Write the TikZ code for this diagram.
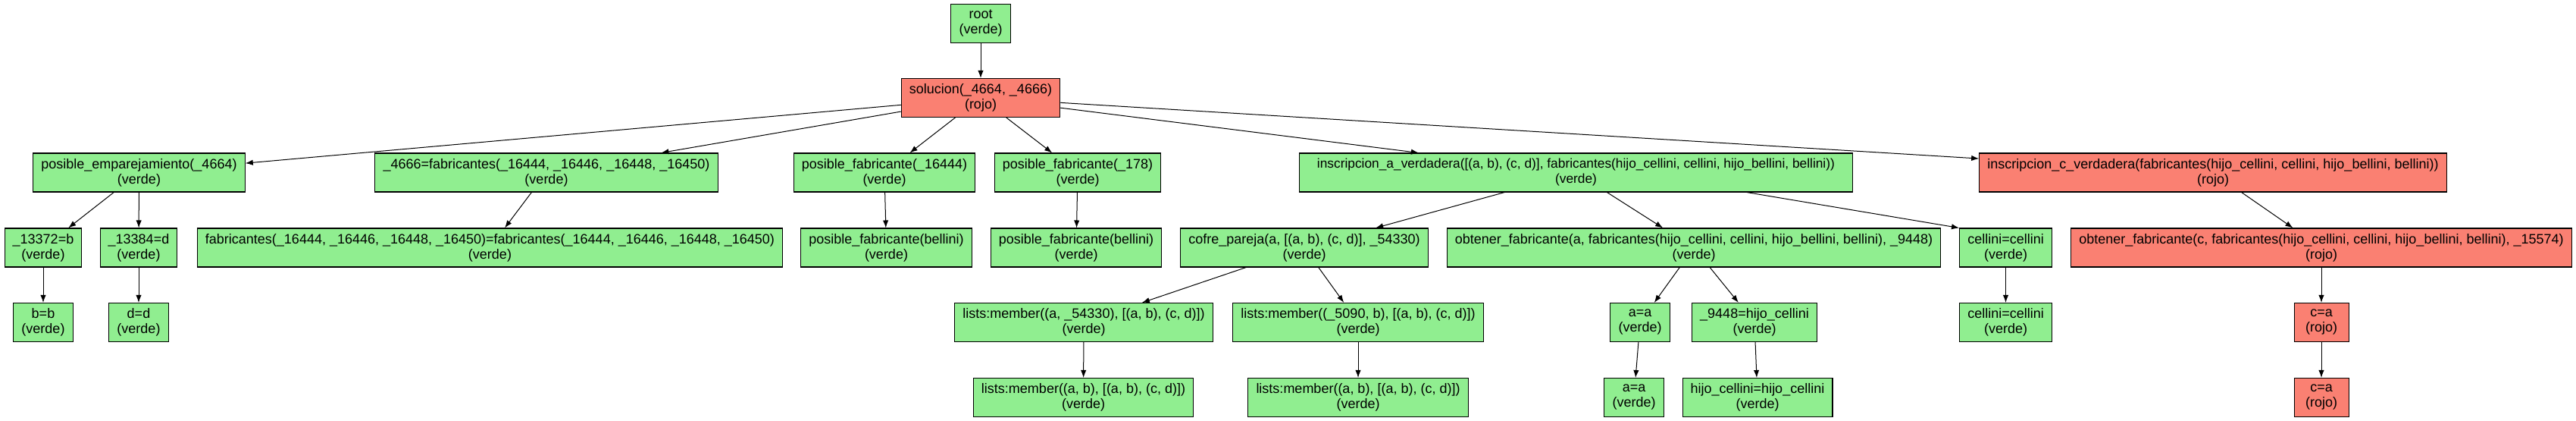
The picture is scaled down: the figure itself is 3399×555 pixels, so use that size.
\documentclass[tikz,border=0pt]{standalone}
\usepackage{fontspec}
\setmainfont{Liberation Sans}
\usetikzlibrary{arrows.meta}
\definecolor{verde}{RGB}{144,238,144}
\definecolor{rojo}{RGB}{250,128,114}
\tikzset{
    caja/.style={draw=black,line width=0.8pt,rectangle,align=center,
        minimum width=54pt,minimum height=38.25pt,inner xsep=8pt,inner ysep=2pt,
        font=\fontsize{13.5}{15}\selectfont},
    cajav/.style={caja,fill=verde},
    cajar/.style={caja,fill=rojo},
    flecha/.style={>={Latex[length=7.5pt,width=5.5pt]},->,line width=0.75pt}
}
\begin{document}
\begin{tikzpicture}[x=0.75pt,y=-0.75pt]
                        \useasboundingbox (0,0) rectangle (3399,555);
                        % nivel 0 y 1
                        \node[cajav] (root) at (1294,31) {root\\(verde)};
                        \node[cajar] (sol) at (1294,129) {solucion(\_4664, \_4666)\\(rojo)};
                        % nivel 2
                        \node[cajav] (pe) at (183.5,227.5) {posible\_emparejamiento(\_4664)\\(verde)};
                        \node[cajav] (fab) at (721,227.5) {\_4666=fabricantes(\_16444, \_16446, \_16448, \_16450)\\(verde)};
                        \node[cajav] (pfa) at (1167,227.5) {posible\_fabricante(\_16444)\\(verde)};
                        \node[cajav] (pfb) at (1422,227.5) {posible\_fabricante(\_178)\\(verde)};
                        \node[cajav,minimum width=548pt,font=\fontsize{13}{15}\selectfont] (insa) at (2079.5,227.5) {inscripcion\_a\_verdadera([(a, b), (c, d)], fabricantes(hijo\_cellini, cellini, hijo\_bellini, bellini))\\(verde)};
                        \node[cajar] (insc) at (2920,227.5) {inscripcion\_c\_verdadera(fabricantes(hijo\_cellini, cellini, hijo\_bellini, bellini))\\(rojo)};
                        % nivel 3
                        \node[cajav] (eqb) at (57,326.5) {\_13372=b\\(verde)};
                        \node[cajav] (eqd) at (183,326.5) {\_13384=d\\(verde)};
                        \node[cajav] (fabeq) at (646.5,326.5) {fabricantes(\_16444, \_16446, \_16448, \_16450)=fabricantes(\_16444, \_16446, \_16448, \_16450)\\(verde)};
                        \node[cajav] (pbea) at (1169.5,326.5) {posible\_fabricante(bellini)\\(verde)};
                        \node[cajav] (pbeb) at (1420,326.5) {posible\_fabricante(bellini)\\(verde)};
                        \node[cajav] (cofre) at (1721,326.5) {cofre\_pareja(a, [(a, b), (c, d)], \_54330)\\(verde)};
                        \node[cajav] (obta) at (2235,326.5) {obtener\_fabricante(a, fabricantes(hijo\_cellini, cellini, hijo\_bellini, bellini), \_9448)\\(verde)};
                        \node[cajav] (cela) at (2646.5,326.5) {cellini=cellini\\(verde)};
                        \node[cajar] (obtc) at (3063,326.5) {obtener\_fabricante(c, fabricantes(hijo\_cellini, cellini, hijo\_bellini, bellini), \_15574)\\(rojo)};
                        % nivel 4
                        \node[cajav] (bb) at (57,425) {b=b\\(verde)};
                        \node[cajav] (dd) at (183,425) {d=d\\(verde)};
                        \node[cajav] (lma) at (1430,425) {lists:member((a, \_54330), [(a, b), (c, d)])\\(verde)};
                        \node[cajav] (lmb) at (1792,425) {lists:member((\_5090, b), [(a, b), (c, d)])\\(verde)};
                        \node[cajav] (aaa) at (2164,425) {a=a\\(verde)};
                        \node[cajav] (hij) at (2315,425) {\_9448=hijo\_cellini\\(verde)};
                        \node[cajav] (celb) at (2646.5,425) {cellini=cellini\\(verde)};
                        \node[cajar] (caa) at (3063,425) {c=a\\(rojo)};
                        % nivel 5
                        \node[cajav] (lmc) at (1429.5,524) {lists:member((a, b), [(a, b), (c, d)])\\(verde)};
                        \node[cajav] (lmd) at (1792,524) {lists:member((a, b), [(a, b), (c, d)])\\(verde)};
                        \node[cajav] (aab) at (2156,524) {a=a\\(verde)};
                        \node[cajav] (hch) at (2319,524) {hijo\_cellini=hijo\_cellini\\(verde)};
                        \node[cajar] (cab) at (3063,524) {c=a\\(rojo)};
                        % aristas
                        \draw[flecha] (root) -- (sol);
                        \draw[flecha] (sol) -- (pe);
                        \draw[flecha] (sol) -- (fab);
                        \draw[flecha] (sol) -- (pfa);
                        \draw[flecha] (sol) -- (pfb);
                        \draw[flecha] (sol) -- (insa);
                        \draw[flecha] (sol) -- (insc);
                        \draw[flecha] (pe) -- (eqb);
                        \draw[flecha] (pe) -- (eqd);
                        \draw[flecha] (fab) -- (fabeq);
                        \draw[flecha] (pfa) -- (pbea);
                        \draw[flecha] (pfb) -- (pbeb);
                        \draw[flecha] (insa) -- (cofre);
                        \draw[flecha] (insa) -- (obta);
                        \draw[flecha] ([xshift=169pt]insa.south) -- (cela.north west);
                        \draw[flecha] (insc) -- (obtc);
                        \draw[flecha] (eqb) -- (bb);
                        \draw[flecha] (eqd) -- (dd);
                        \draw[flecha] (cofre) -- (lma);
                        \draw[flecha] (cofre) -- (lmb);
                        \draw[flecha] (obta) -- (aaa);
                        \draw[flecha] (obta) -- (hij);
                        \draw[flecha] (cela) -- (celb);
                        \draw[flecha] (obtc) -- (caa);
                        \draw[flecha] (lma) -- (lmc);
                        \draw[flecha] (lmb) -- (lmd);
                        \draw[flecha] (aaa) -- (aab);
                        \draw[flecha] (hij) -- (hch);
                        \draw[flecha] (caa) -- (cab);
                    \end{tikzpicture}
\end{document}
